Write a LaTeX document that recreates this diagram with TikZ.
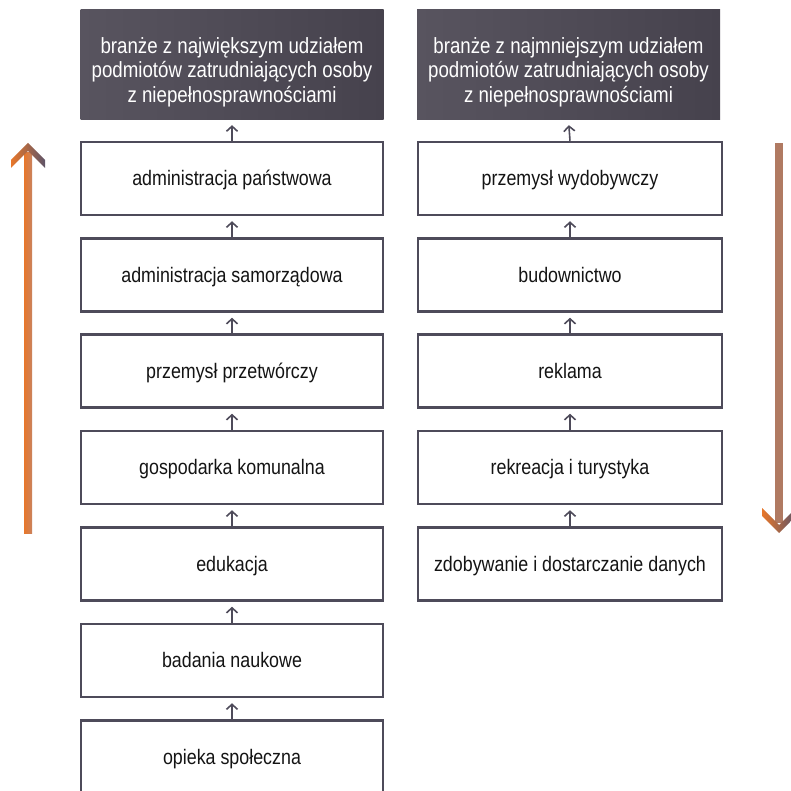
\documentclass[tikz,border=0pt]{standalone}
\usepackage{fontspec}
\setmainfont{Liberation Sans}[FakeStretch=0.85]
\usetikzlibrary{arrows.meta}
\definecolor{boxline}{HTML}{4E4B5A}
\definecolor{hdrL}{HTML}{58545F}
\definecolor{hdrR}{HTML}{46424D}
\definecolor{arrOr}{HTML}{E8772A}
\definecolor{arrBr}{HTML}{C9825E}
\definecolor{arrGr}{HTML}{5E5468}
\definecolor{arrBr2}{HTML}{B07A62}
\definecolor{txt}{HTML}{141414}
\tikzset{
  hdr/.style={draw=none, left color=hdrL, right color=hdrR,
    minimum width=303pt, minimum height=110pt, inner sep=0pt},
  hdrtext/.style={text=white, align=center, yshift=-7pt, inner sep=0pt,
    font=\fontsize{22}{24.5}\selectfont},
  itembox/.style={draw=boxline, line width=2.5pt, fill=white, text=txt,
    minimum width=302pt, minimum height=73pt, inner sep=0pt,
    text height=14pt, text depth=0pt,
    font=\fontsize{21}{23}\selectfont},
  conn/.style={draw=boxline, line width=1.6pt, shorten >=5pt,
    -{Straight Barb[length=5pt,width=11pt,line width=1.6pt]}}
}
\begin{document}
\begin{tikzpicture}[x=1pt,y=-1pt]
\useasboundingbox (0,0) rectangle (791,791);
% headers
\node[hdr, label={[hdrtext]center:{branże z największym udziałem\\podmiotów zatrudniających osoby\\z niepełnosprawnościami}}] (hl) at (232,65) {};
\node[hdr, label={[hdrtext]center:{branże z najmniejszym udziałem\\podmiotów zatrudniających osoby\\z niepełnosprawnościami}}] (hr) at (568.5,65) {};
% left column
\node[itembox] (l1) at (232,178.5) {administracja państwowa};
\node[itembox] (l2) at (232,275) {administracja samorządowa};
\node[itembox] (l3) at (232,371) {przemysł przetwórczy};
\node[itembox] (l4) at (232,467.5) {gospodarka komunalna};
\node[itembox] (l5) at (232,564) {edukacja};
\node[itembox] (l6) at (232,660.5) {badania naukowe};
\node[itembox] (l7) at (232,757) {opieka społeczna};
% right column
\node[itembox, minimum width=304pt] (r1) at (570,178.5) {przemysł wydobywczy};
\node[itembox, minimum width=304pt] (r2) at (570,275) {budownictwo};
\node[itembox, minimum width=304pt] (r3) at (570,371) {reklama};
\node[itembox, minimum width=304pt] (r4) at (570,467.5) {rekreacja i turystyka};
\node[itembox, minimum width=304pt] (r5) at (570,564) {zdobywanie i dostarczanie danych};
% connectors
\draw[conn] (l1.north) -- (hl.south);
\draw[conn] (l2.north) -- (l1.south);
\draw[conn] (l3.north) -- (l2.south);
\draw[conn] (l4.north) -- (l3.south);
\draw[conn] (l5.north) -- (l4.south);
\draw[conn] (l6.north) -- (l5.south);
\draw[conn] (l7.north) -- (l6.south);
\draw[conn] (r1.north) -- (hr.south);
\draw[conn] (r2.north) -- (r1.south);
\draw[conn] (r3.north) -- (r2.south);
\draw[conn] (r4.north) -- (r3.south);
\draw[conn] (r5.north) -- (r4.south);
% big left arrow (up)
\shade[left color=arrOr, right color=arrBr] (24,153) rectangle (32,533);
\shade[left color=arrOr, right color=arrGr] (28,143) -- (45,160) -- (45,168) -- (28,151) -- (11,168) -- (11,160) -- cycle;
% big right arrow (down)
\fill[arrBr2] (775,143) rectangle (783,523);
\shade[left color=arrOr, right color=arrGr] (779,533) -- (796,516) -- (796,508) -- (779,525) -- (762,508) -- (762,516) -- cycle;
\end{tikzpicture}
\end{document}
